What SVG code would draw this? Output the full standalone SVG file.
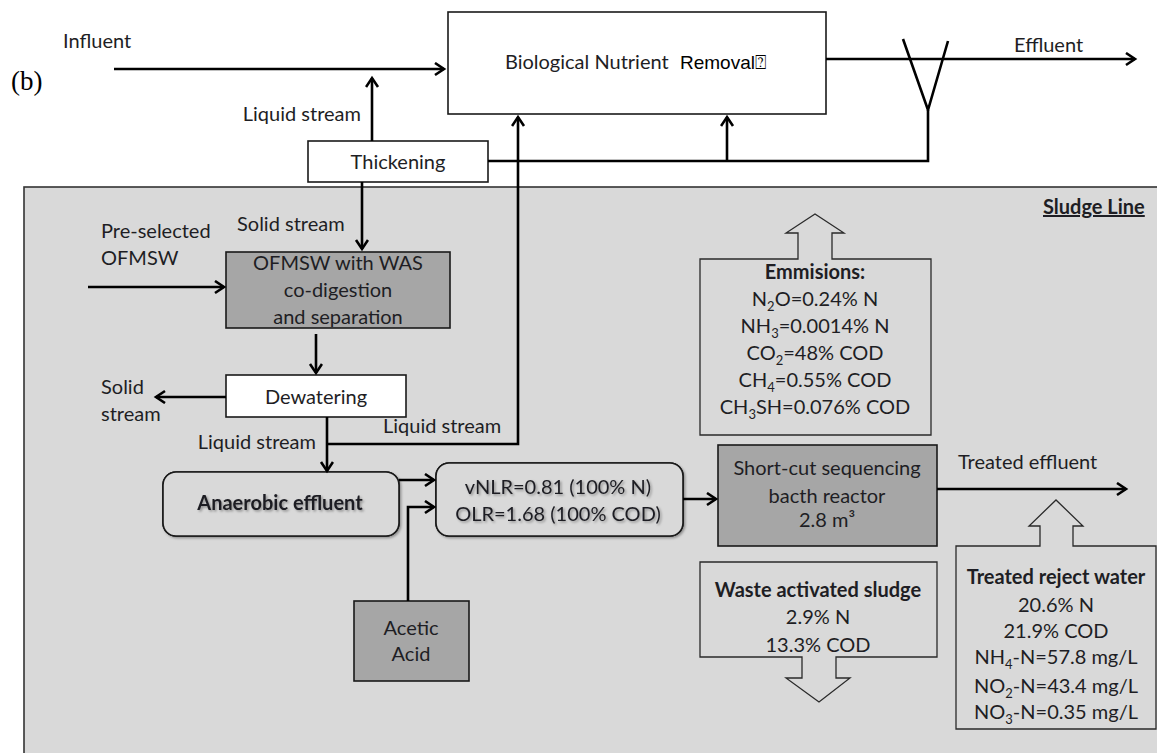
<svg xmlns="http://www.w3.org/2000/svg" width="1157" height="753" viewBox="0 0 1157 753">
  <style>
    .t { font-family: Lato, "Liberation Sans", sans-serif; font-size: 20px; fill: #1e1e24; }
    .b { font-weight: bold; }
    .c { text-anchor: middle; }
    .e { text-anchor: end; }
    .box { stroke: #1a1a1a; stroke-width: 1.6; }
    .white { fill: #ffffff; }
    .dark { fill: #a6a6a6; }
    .light { fill: #d9d9d9; }
    .block { fill: #d9d9d9; stroke: #2a2a2a; stroke-width: 1.3; }
    #connectors path { fill: none; stroke: #000; stroke-width: 2.6; }
    .sub { font-size: 13px; }
  </style>
  <defs>
    <marker id="ah" markerUnits="userSpaceOnUse" markerWidth="16" markerHeight="16" refX="12" refY="7" orient="auto">
      <path d="M3,1 L12,7 L3,13" fill="none" stroke="#000" stroke-width="2.6"/>
    </marker>
    <filter id="soft" x="-10%" y="-30%" width="120%" height="160%">
      <feDropShadow dx="1.5" dy="1.5" stdDeviation="1.2" flood-color="#000" flood-opacity="0.35"/>
    </filter>
  </defs>

  <rect width="1157" height="753" fill="#ffffff"/>

  <!-- sludge line panel -->
  <g id="sludge-panel">
    <rect x="24" y="187" width="1150" height="580" fill="#d9d9d9" stroke="#333" stroke-width="1.6"/>
    <text class="t b" x="1043" y="214" text-decoration="underline">Sludge Line</text>
  </g>

  <text x="11" y="90" font-family="'Liberation Serif', serif" font-size="27" fill="#000">(b)</text>

  <!-- water line -->
  <g id="influent"><text class="t" x="63" y="48">Influent</text></g>

  <g id="bnr">
    <rect class="box white" x="448" y="12" width="378" height="102"/>
    <text class="t" x="505" y="69">Biological Nutrient</text>
    <text x="680" y="69" font-family="'Liberation Sans', 'DejaVu Sans', sans-serif" font-size="19" fill="#000">Removal⍰</text>
  </g>

  <g id="clarifier">
    <path d="M903,39 L928,110 L948,41" fill="none" stroke="#000" stroke-width="2.6"/>
  </g>

  <g id="effluent"><text class="t" x="1014" y="52">Effluent</text></g>

  <g id="thickening">
    <rect class="box white" x="308" y="141" width="180" height="41"/>
    <text class="t c" x="398" y="169">Thickening</text>
  </g>

  <g id="ofmsw-feed">
    <text class="t" x="101" y="238">Pre-selected</text>
    <text class="t" x="101" y="265">OFMSW</text>
  </g>

  <g id="codigestion">
    <rect class="box dark" x="226" y="252" width="224" height="76"/>
    <text class="t c" x="338" y="270">OFMSW with WAS</text>
    <text class="t c" x="338" y="297">co-digestion</text>
    <text class="t c" x="338" y="324">and separation</text>
  </g>

  <g id="dewatering">
    <rect class="box white" x="226" y="375" width="180" height="42"/>
    <text class="t c" x="316" y="404">Dewatering</text>
  </g>

  <g id="solid-out">
    <text class="t" x="101" y="394">Solid</text>
    <text class="t" x="101" y="421">stream</text>
  </g>

  <g id="anaerobic-effluent">
    <rect class="box light" x="163" y="472" width="236" height="64" rx="13" filter="url(#soft)"/>
    <rect class="box light" x="163" y="472" width="236" height="64" rx="13"/>
    <text class="t b c" x="280" y="510" filter="url(#soft)">Anaerobic effluent</text>
  </g>

  <g id="loading">
    <rect class="box light" x="436" y="463" width="247" height="73" rx="13" filter="url(#soft)"/>
    <rect class="box light" x="436" y="463" width="247" height="73" rx="13"/>
    <text class="t c" x="558" y="494" filter="url(#soft)">vNLR=0.81 (100% N)</text>
    <text class="t c" x="558" y="521" filter="url(#soft)">OLR=1.68 (100% COD)</text>
  </g>

  <g id="acetic-acid">
    <rect class="box dark" x="354" y="601" width="115" height="80"/>
    <text class="t c" x="411" y="635">Acetic</text>
    <text class="t c" x="411" y="661">Acid</text>
  </g>

  <g id="sbr">
    <rect class="box dark" x="718" y="445" width="219" height="101"/>
    <text class="t c" x="827" y="475">Short-cut sequencing</text>
    <text class="t c" x="827" y="503">bacth reactor</text>
    <text class="t c" x="827" y="527">2.8 m³</text>
  </g>

  <g id="treated-effluent"><text class="t" x="958" y="469">Treated effluent</text></g>

  <g id="emissions">
    <path class="block" d="M700,259 H798 V233 H786 L815,214 L844,233 H832 V259 H931 V435 H700 Z"/>
    <text class="t b c" x="815" y="279">Emmisions:</text>
    <text class="t c" x="815" y="306">N<tspan class="sub" dy="5">2</tspan><tspan dy="-5">O=0.24% N</tspan></text>
    <text class="t c" x="815" y="333">NH<tspan class="sub" dy="5">3</tspan><tspan dy="-5">=0.0014% N</tspan></text>
    <text class="t c" x="815" y="360">CO<tspan class="sub" dy="5">2</tspan><tspan dy="-5">=48% COD</tspan></text>
    <text class="t c" x="815" y="387">CH<tspan class="sub" dy="5">4</tspan><tspan dy="-5">=0.55% COD</tspan></text>
    <text class="t c" x="815" y="414">CH<tspan class="sub" dy="5">3</tspan><tspan dy="-5">SH=0.076% COD</tspan></text>
  </g>

  <g id="waste-sludge">
    <path class="block" d="M700,562 H937 V657 H836 V678 H850 L819,702 L786,678 H802 V657 H700 Z"/>
    <text class="t b c" x="818" y="597">Waste activated sludge</text>
    <text class="t c" x="818" y="624">2.9% N</text>
    <text class="t c" x="818" y="652">13.3% COD</text>
  </g>

  <g id="reject-water">
    <path class="block" d="M956,546 H1040 V526 H1029 L1056,500 L1083,526 H1073 V546 H1156 V729 H956 Z"/>
    <text class="t b c" x="1056" y="584">Treated reject water</text>
    <text class="t c" x="1056" y="612">20.6% N</text>
    <text class="t c" x="1056" y="638">21.9% COD</text>
    <text class="t c" x="1056" y="664">NH<tspan class="sub" dy="5">4</tspan><tspan dy="-5">-N=57.8 mg/L</tspan></text>
    <text class="t c" x="1056" y="693">NO<tspan class="sub" dy="5">2</tspan><tspan dy="-5">-N=43.4  mg/L</tspan></text>
    <text class="t c" x="1056" y="719">NO<tspan class="sub" dy="5">3</tspan><tspan dy="-5">-N=0.35 mg/L</tspan></text>
  </g>

  <!-- stream labels -->
  <g id="labels">
    <text class="t e" x="361" y="121">Liquid stream</text>
    <text class="t" x="237" y="231">Solid stream</text>
    <text class="t e" x="316" y="449">Liquid stream</text>
    <text class="t" x="383" y="433">Liquid stream</text>
  </g>

  <g id="connectors">
    <path d="M114,69 H444" marker-end="url(#ah)"/>
    <path d="M372,141 V78" marker-end="url(#ah)"/>
    <path d="M488,161 H928 V110"/>
    <path d="M727,161 V117" marker-end="url(#ah)"/>
    <path d="M826,59 H1135" marker-end="url(#ah)"/>
    <path d="M362,182 V249" marker-end="url(#ah)"/>
    <path d="M88,287 H224" marker-end="url(#ah)"/>
    <path d="M316,334 V373" marker-end="url(#ah)"/>
    <path d="M226,397 H156" marker-end="url(#ah)"/>
    <path d="M327,417 V471" marker-end="url(#ah)"/>
    <path d="M327,444 H518 V117" marker-end="url(#ah)"/>
    <path d="M399,480 H434" marker-end="url(#ah)"/>
    <path d="M408,601 V507 H434" marker-end="url(#ah)"/>
    <path d="M683,499 H716" marker-end="url(#ah)"/>
    <path d="M937,489 H1126" marker-end="url(#ah)"/>
  </g>
</svg>
